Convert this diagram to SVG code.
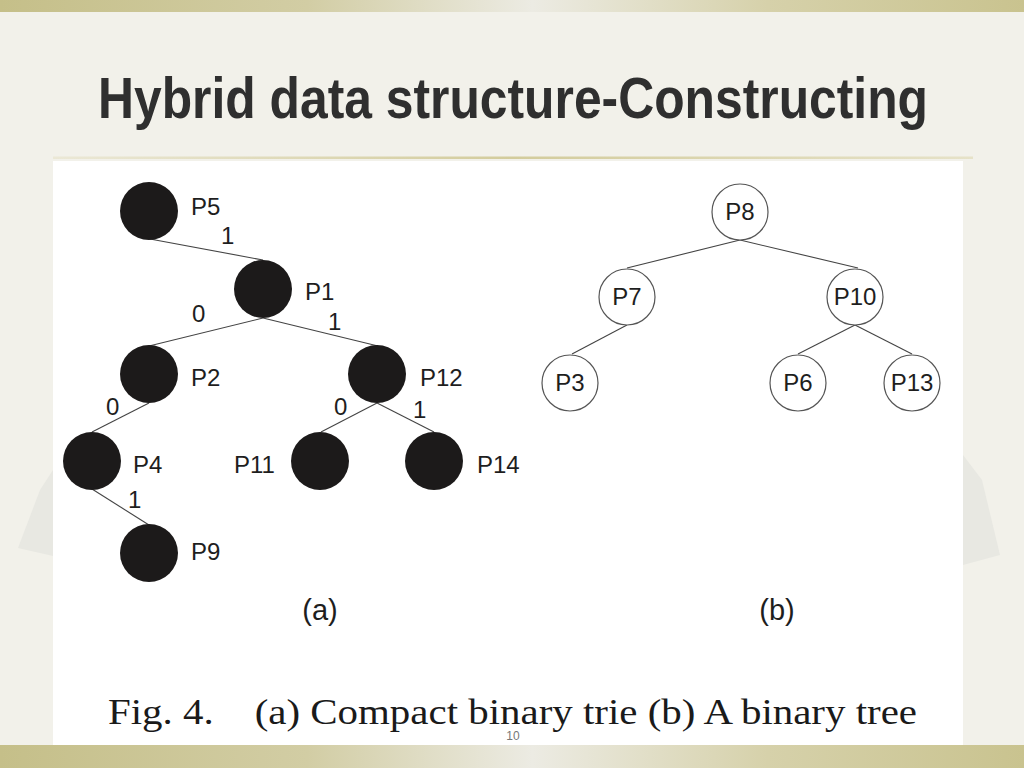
<svg xmlns="http://www.w3.org/2000/svg" width="1024" height="768" viewBox="0 0 1024 768">
<defs>
<linearGradient id="band" x1="0" y1="0" x2="1" y2="0">
<stop offset="0" stop-color="#c5bf89"/>
<stop offset="0.3" stop-color="#d2cda4"/>
<stop offset="0.52" stop-color="#ecebe3"/>
<stop offset="0.75" stop-color="#d6d1aa"/>
<stop offset="1" stop-color="#c9c38f"/>
</linearGradient>
<linearGradient id="rule" x1="0" y1="0" x2="1" y2="0">
<stop offset="0" stop-color="#ebe8d6"/>
<stop offset="0.5" stop-color="#d3cc9c"/>
<stop offset="1" stop-color="#e6e2c8"/>
</linearGradient>
<style>
.lbl{font-family:"Liberation Sans",Arial,sans-serif;font-size:24px;fill:#1e1e1e}
.ctr{text-anchor:middle}
.dot{fill:#1c1a1a}
.ring{fill:#fff;stroke:#555;stroke-width:1.2}
.edge{stroke:#444;stroke-width:1.1;fill:none}
</style>
</defs>
<rect width="1024" height="768" fill="#f2f1ea"/>
<polygon points="18,548 40,490 53,470 53,556" fill="#e8e8e2"/>
<polygon points="963,455 982,480 1000,555 963,565" fill="#e8e8e2"/>
<rect x="0" y="0" width="1024" height="12" fill="url(#band)"/>
<rect x="0" y="745" width="1024" height="23" fill="url(#band)"/>
<text x="98" y="118" font-family="Liberation Sans,Arial,sans-serif" font-weight="bold" font-size="58" fill="#2f2f2f" textLength="830" lengthAdjust="spacingAndGlyphs">Hybrid data structure-Constructing</text>
<rect x="53" y="156.5" width="920" height="2.5" fill="url(#rule)"/>
<rect x="53" y="161" width="910" height="584" fill="#ffffff"/>

<g id="connectors">
<line class="edge" x1="150" y1="239" x2="263" y2="260"/>
<line class="edge" x1="263" y1="318" x2="149" y2="346"/>
<line class="edge" x1="263" y1="318" x2="378" y2="346"/>
<line class="edge" x1="149" y1="403" x2="92" y2="432"/>
<line class="edge" x1="377" y1="403" x2="321" y2="432"/>
<line class="edge" x1="377" y1="403" x2="434" y2="432"/>
<line class="edge" x1="92" y1="489" x2="149" y2="525"/>
<line class="edge" x1="740" y1="240" x2="627" y2="268"/>
<line class="edge" x1="740" y1="240" x2="858" y2="268"/>
<line class="edge" x1="627" y1="325" x2="572" y2="354"/>
<line class="edge" x1="855" y1="325" x2="798" y2="354"/>
<line class="edge" x1="855" y1="325" x2="912" y2="354"/>
<text class="lbl" x="221" y="244">1</text>
<text class="lbl" x="192" y="322">0</text>
<text class="lbl" x="328" y="330">1</text>
<text class="lbl" x="106" y="415">0</text>
<text class="lbl" x="334" y="415">0</text>
<text class="lbl" x="413" y="418">1</text>
<text class="lbl" x="128" y="508">1</text>
</g>

<g id="P5"><circle class="dot" cx="149" cy="211" r="29"/><text class="lbl" x="191" y="215">P5</text></g>
<g id="P1"><circle class="dot" cx="263" cy="289" r="29"/><text class="lbl" x="305" y="300">P1</text></g>
<g id="P2"><circle class="dot" cx="149" cy="374" r="29"/><text class="lbl" x="191" y="386">P2</text></g>
<g id="P12"><circle class="dot" cx="377" cy="374" r="29"/><text class="lbl" x="420" y="386">P12</text></g>
<g id="P4"><circle class="dot" cx="92" cy="461" r="29"/><text class="lbl" x="133" y="473">P4</text></g>
<g id="P11"><circle class="dot" cx="320" cy="461" r="29"/><text class="lbl" x="234" y="473">P11</text></g>
<g id="P14"><circle class="dot" cx="434" cy="461" r="29"/><text class="lbl" x="477" y="473">P14</text></g>
<g id="P9"><circle class="dot" cx="149" cy="553" r="29"/><text class="lbl" x="191" y="560">P9</text></g>

<g id="P8"><circle class="ring" cx="740" cy="212" r="28"/><text class="lbl ctr" x="740" y="220">P8</text></g>
<g id="P7"><circle class="ring" cx="627" cy="297" r="28"/><text class="lbl ctr" x="627" y="305">P7</text></g>
<g id="P10"><circle class="ring" cx="855" cy="297" r="28"/><text class="lbl ctr" x="855" y="305">P10</text></g>
<g id="P3"><circle class="ring" cx="570" cy="383" r="28"/><text class="lbl ctr" x="570" y="391">P3</text></g>
<g id="P6"><circle class="ring" cx="798" cy="383" r="28"/><text class="lbl ctr" x="798" y="391">P6</text></g>
<g id="P13"><circle class="ring" cx="912" cy="383" r="28"/><text class="lbl ctr" x="912" y="391">P13</text></g>

<text class="lbl ctr" x="320" y="620" style="font-size:29px">(a)</text>
<text class="lbl ctr" x="777" y="620" style="font-size:29px">(b)</text>
<text x="108" y="724" font-family="Liberation Serif,Times New Roman,serif" font-size="36" fill="#1a1a1a" textLength="809" lengthAdjust="spacingAndGlyphs" xml:space="preserve">Fig. 4.    (a) Compact binary trie (b) A binary tree</text>
<text x="513" y="740" font-family="Liberation Sans,Arial,sans-serif" font-size="12" fill="#777" text-anchor="middle">10</text>
</svg>
